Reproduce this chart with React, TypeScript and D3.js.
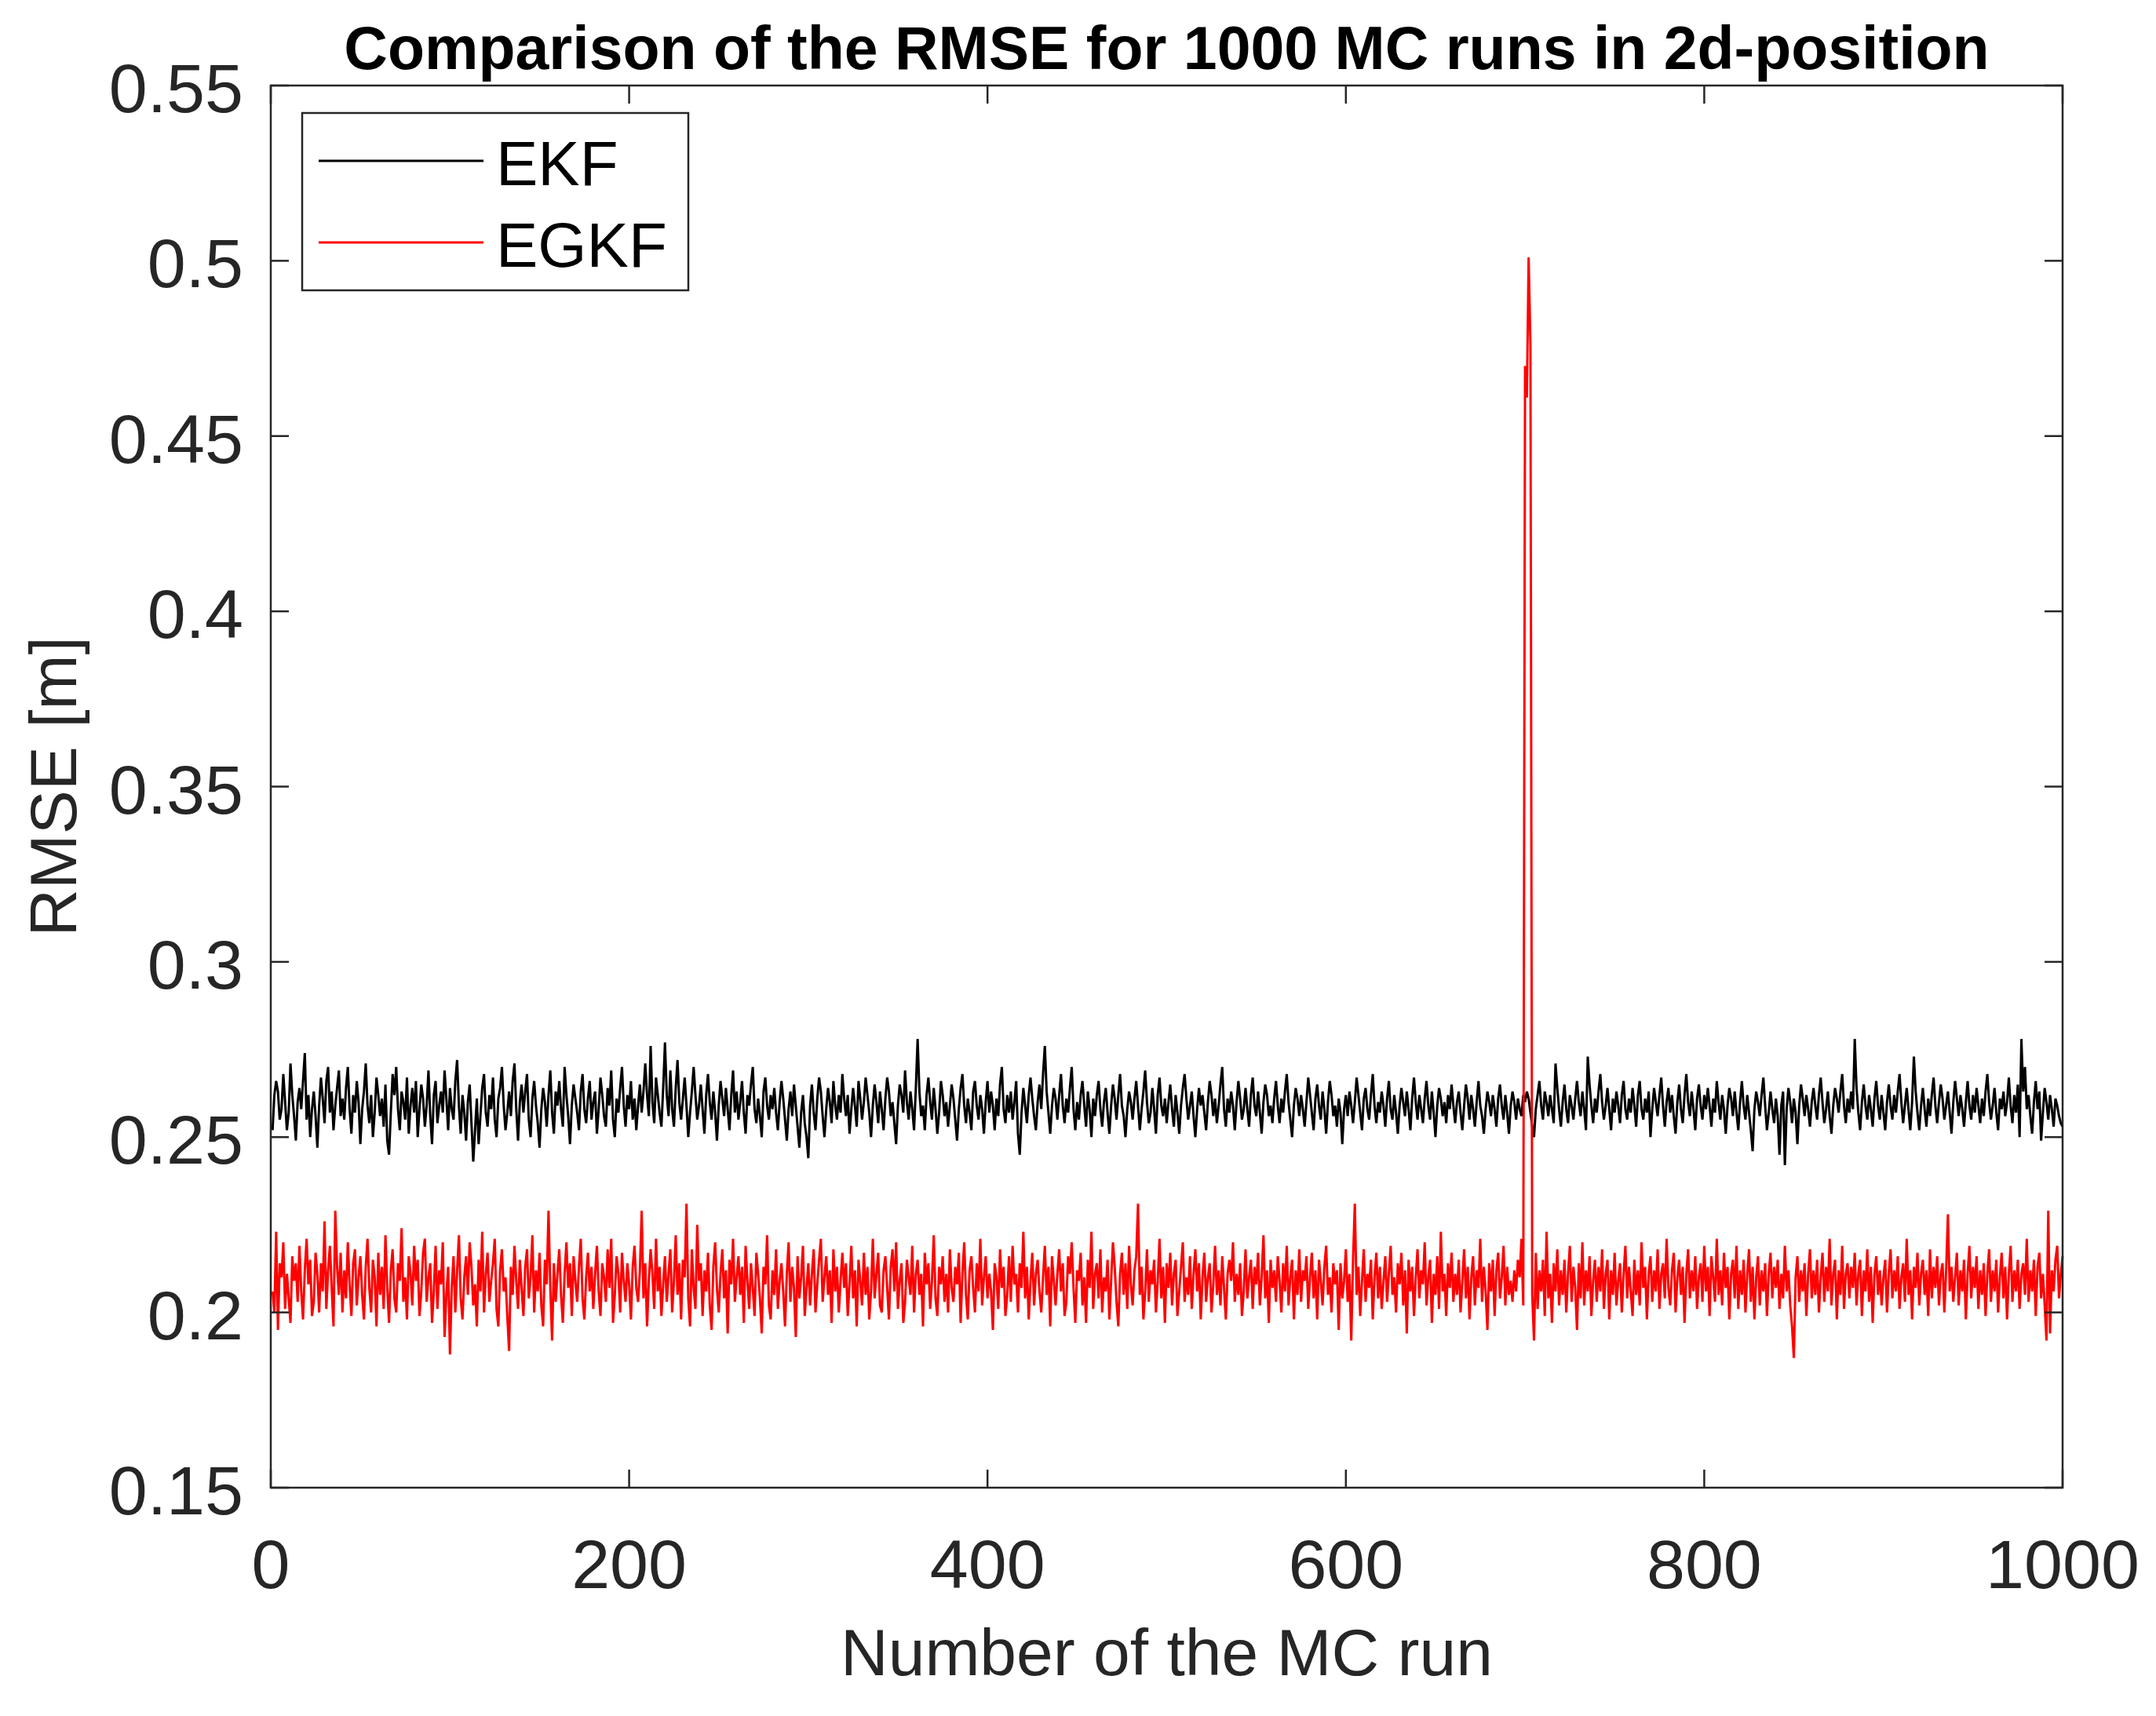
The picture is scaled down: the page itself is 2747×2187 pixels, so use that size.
import * as d3 from "d3";

// RMSE per Monte-Carlo run, in thousandths of a metre (runs 1..1000)
const ekfMilli: number[] = [
  252, 262, 266, 263, 255, 258, 268, 260, 252, 257, 271, 262, 256, 249, 260, 264, 258, 266, 274, 255,
  262, 250, 258, 263, 256, 247, 259, 267, 261, 254, 266, 270, 257, 263, 252, 259, 264, 269, 256, 261,
  255, 264, 270, 258, 251, 262, 257, 266, 260, 248, 258, 263, 271, 259, 254, 262, 250, 257, 267, 262,
  256, 261, 253, 265, 249, 245, 257, 268, 262, 270, 258, 252, 263, 260, 255, 267, 251, 259, 264, 257,
  266, 250, 258, 265, 261, 253, 259, 269, 256, 248, 262, 266, 254, 259, 263, 257, 269, 261, 252, 264,
  258, 255, 266, 272, 259, 251, 262, 257, 249, 260, 265, 254, 243, 252, 261, 248, 256, 264, 268, 257,
  253, 262, 258, 267, 255, 250, 261, 264, 270, 259, 252, 257, 263, 256, 266, 271, 258, 249, 260, 265,
  257, 263, 268, 255, 250, 261, 266, 259, 254, 247, 258, 264, 260, 253, 262, 269, 257, 251, 263, 259,
  266, 258, 253, 270, 262, 256, 248, 259, 265, 261, 257, 252, 263, 268, 258, 254, 261, 266, 255, 260,
  263, 251, 258, 267, 262, 256, 253, 264, 259, 269, 255, 250, 261, 257, 264, 270, 259, 253, 262, 258,
  266, 255, 261, 252, 259, 265, 257, 263, 271, 262, 256, 276, 260, 254, 267, 262, 257, 253, 264, 277,
  262, 256, 269, 258, 253, 264, 272, 260, 255, 261, 267, 259, 250, 257, 263, 270, 262, 255, 259, 265,
  258, 251, 262, 268, 260, 255, 263, 257, 249, 259, 266, 261, 256, 264, 258, 252, 262, 269, 257, 263,
  255, 260, 266, 257, 251, 262, 259, 265, 270, 258, 254, 261, 256, 250, 263, 267, 259, 255, 262, 258,
  264, 257, 252, 260, 266, 261, 255, 249, 258, 263, 256, 265, 259, 253, 247, 257, 262, 254, 250, 244,
  259, 265, 257, 252, 261, 267, 263, 256, 250, 258, 264, 260, 254, 266, 259, 255, 262, 257, 268, 261,
  256, 262, 251, 258, 264, 259, 253, 266, 261, 255, 260, 267, 262, 257, 250, 259, 265, 260, 254, 263,
  258, 252, 261, 267, 263, 256, 260, 254, 248, 259, 265, 262, 257, 269, 260, 255, 263, 258, 252, 264,
  278, 263, 256, 259, 252, 262, 267, 260, 255, 264, 258, 251, 257, 266, 262, 256, 260, 253, 259, 265,
  261, 255, 249, 258, 264, 268, 259, 254, 261, 257, 252, 263, 266, 259, 255, 262, 258, 251, 260, 266,
  257, 263, 259, 252, 261, 256, 265, 270, 258, 254, 262, 257, 263, 255, 260, 266, 251, 245, 257, 264,
  259, 254, 262, 267, 261, 256, 252, 260, 265, 258, 268, 276, 263, 257, 251, 259, 264, 261, 255, 262,
  268, 259, 254, 261, 257, 264, 270, 258, 252, 260, 255, 262, 266, 259, 253, 263, 258, 250, 261, 256,
  262, 266, 258, 253, 260, 264, 257, 251, 259, 265, 261, 255, 262, 268, 259, 256, 250, 258, 263, 260,
  255, 261, 266, 259, 252, 258, 263, 269, 260, 254, 257, 264, 258, 251, 262, 267, 259, 256, 261, 254,
  260, 265, 258, 253, 262, 257, 251, 259, 264, 268, 261, 255, 259, 263, 256, 250, 258, 264, 259, 262,
  257, 252, 260, 266, 262, 256, 261, 254, 259, 265, 270, 258, 253, 261, 257, 263, 259, 252, 260, 266,
  261, 255, 258, 264, 258, 253, 262, 267, 259, 256, 263, 257, 251, 260, 265, 262, 256, 259, 254, 261,
  266, 259, 254, 261, 257, 263, 268, 260, 255, 250, 259, 264, 261, 256, 262, 258, 253, 260, 267, 262,
  257, 252, 261, 265, 259, 255, 263, 258, 251, 260, 266, 262, 256, 259, 253, 261, 257, 248, 258, 262,
  256, 263, 259, 254, 260, 267, 262, 257, 252, 261, 264, 258, 255, 262, 268, 259, 254, 260, 257, 263,
  259, 253, 261, 266, 258, 255, 262, 257, 251, 259, 264, 260, 256, 263, 258, 252, 261, 267, 260, 255,
  262, 258, 254, 261, 266, 259, 255, 263, 257, 250, 259, 264, 261, 256, 260, 254, 262, 258, 265, 259,
  254, 260, 263, 257, 252, 259, 265, 261, 255, 262, 258, 253, 260, 266, 259, 256, 251, 258, 263, 260,
  256, 262, 258, 253, 261, 265, 259, 255, 262, 257, 251, 259, 263, 260, 255, 261, 258, 256, 262, 260,
  263, 261, 257, 253, 250, 258, 262, 266, 259, 255, 263, 260, 256, 262, 258, 254, 271, 264, 258, 253,
  260, 265, 258, 254, 262, 259, 255, 261, 266, 260, 256, 263, 258, 252, 273, 265, 259, 254, 261, 257,
  263, 268, 260, 255, 259, 264, 258, 252, 261, 257, 263, 259, 254, 262, 266, 258, 255, 261, 257, 264,
  259, 253, 262, 266, 258, 255, 261, 257, 263, 250, 258, 264, 260, 256, 262, 267, 259, 253, 260, 264,
  257, 262, 256, 251, 260, 265, 258, 254, 262, 268, 260, 256, 263, 258, 252, 261, 265, 259, 255, 262,
  258, 264, 259, 253, 261, 257, 266, 260, 255, 262, 258, 251, 259, 264, 261, 256, 263, 257, 252, 260,
  266, 259, 255, 262, 257, 252, 246, 258, 263, 260, 256, 262, 267, 259, 252, 257, 263, 258, 254, 261,
  256, 245, 259, 263, 242, 258, 264, 260, 254, 261, 257, 248, 259, 265, 261, 256, 262, 258, 253, 260,
  264, 259, 255, 262, 267, 260, 254, 258, 263, 256, 251, 259, 264, 261, 257, 263, 268, 259, 254, 261,
  257, 263, 258, 278, 264, 257, 252, 260, 265, 259, 255, 262, 258, 253, 261, 266, 259, 255, 262, 257,
  252, 260, 265, 259, 255, 262, 257, 263, 268, 260, 254, 259, 264, 258, 252, 260, 273, 263, 257, 252,
  259, 264, 258, 253, 261, 256, 262, 267, 259, 254, 260, 265, 261, 255, 259, 263, 257, 251, 260, 266,
  261, 256, 262, 258, 253, 260, 266, 259, 255, 262, 257, 264, 259, 254, 261, 256, 263, 268, 260, 255,
  259, 264, 257, 252, 261, 258, 263, 256, 260, 267, 259, 254, 262, 257, 265, 250, 278, 263, 270, 258,
  262, 256, 251, 260, 266, 258, 263, 249, 257, 264, 260, 255, 262, 258, 253, 261, 259, 256, 254, 253,
];

const egkfMilli: number[] = [
  206, 200, 223, 195, 214, 210, 220, 201, 211, 204, 197, 216, 209, 214, 203, 219, 206, 198, 212, 221,
  208, 215, 199, 203, 217, 211, 200, 214, 206, 226, 201, 212, 219, 207, 196, 229, 213, 205, 217, 200,
  212, 204, 220, 208, 199, 214, 218, 202, 210, 216, 205, 198, 213, 221, 207, 200, 215, 210, 196, 217,
  205, 213, 201, 222, 207, 197, 212, 218, 204, 200, 214, 209, 224, 203, 210, 198, 216, 211, 202, 219,
  209, 215, 199, 206, 217, 221, 203, 210, 214, 197, 206, 219, 201, 212, 208, 220, 193, 205, 213, 188,
  207, 216, 200, 212, 222, 204, 198, 210, 216, 205, 220, 213, 202, 208, 196, 215, 206, 223, 200, 211,
  217, 203, 209, 214, 221, 201, 196, 212, 218, 206, 210, 199, 189, 213, 205, 219, 209, 201, 215, 207,
  199, 213, 218, 204, 210, 222, 200, 212, 206, 217, 202, 196, 215, 208, 229, 207, 192, 214, 203, 211,
  218, 205, 197, 211, 220, 207, 214, 199, 216, 209, 203, 213, 221, 204, 198, 210, 217, 206, 213, 201,
  211, 219, 206, 199, 214, 210, 203, 218, 207, 221, 197, 205, 216, 211, 200, 217, 209, 203, 214, 208,
  198, 213, 219, 207, 203, 212, 229, 204, 214, 196, 209, 218, 211, 201, 221, 206, 213, 199, 208, 216,
  203, 211, 218, 200, 209, 222, 205, 214, 198, 215, 210, 231, 204, 196, 218, 207, 201, 225, 209, 214,
  199, 212, 206, 217, 202, 195, 213, 220, 207, 200, 211, 218, 204, 212, 194, 215, 208, 221, 203, 210,
  216, 205, 213, 197, 219, 209, 201, 214, 207, 199, 217, 211, 204, 194, 213, 208, 222, 202, 198, 212,
  205, 218, 201, 209, 214, 206, 196, 211, 220, 203, 213, 207, 193, 216, 204, 210, 219, 199, 207, 214,
  202, 211, 218, 200, 208, 215, 221, 203, 210, 216, 205, 212, 197, 218, 206, 213, 200, 209, 217, 207,
  214, 199, 208, 219, 204, 212, 196, 215, 209, 202, 217, 205, 213, 198, 206, 221, 204, 211, 217, 202,
  200, 212, 216, 207, 198, 213, 218, 206, 220, 201, 209, 214, 197, 203, 215, 210, 205, 219, 200, 211,
  215, 205, 211, 196, 217, 208, 214, 201, 209, 222, 204, 199, 213, 208, 216, 203, 211, 200, 218, 207,
  203, 213, 208, 217, 197, 211, 220, 205, 198, 212, 216, 207, 200, 214, 206, 221, 202, 210, 216, 204,
  211, 206, 195, 214, 210, 201, 218, 207, 213, 199, 205, 216, 203, 219, 208, 211, 200, 214, 207, 223,
  204, 213, 198, 209, 217, 202, 211, 215, 206, 200, 210, 219, 205, 213, 196, 216, 209, 202, 211, 218,
  206, 214, 199, 203, 216, 211, 220, 207, 197, 212, 209, 217, 202, 210, 197, 215, 207, 223, 201, 211,
  214, 204, 218, 200, 210, 206, 215, 198, 209, 220, 213, 203, 196, 211, 217, 205, 214, 201, 219, 208,
  202, 212, 216, 231, 205, 213, 198, 206, 218, 203, 212, 208, 215, 200, 209, 221, 204, 213, 197, 214,
  207, 217, 202, 211, 215, 199, 206, 213, 220, 203, 210, 205, 216, 201, 211, 218, 206, 214, 198, 210,
  217, 203, 210, 214, 200, 208, 219, 205, 212, 202, 216, 207, 198, 211, 215, 209, 220, 203, 211, 205,
  214, 199, 206, 218, 204, 210, 215, 201, 213, 208, 217, 202, 210, 222, 204, 212, 197, 215, 207, 212,
  203, 216, 209, 200, 214, 206, 219, 202, 210, 215, 198, 212, 205, 218, 203, 212, 209, 216, 201, 210,
  217, 204, 212, 198, 215, 209, 202, 213, 219, 205, 210, 200, 214, 208, 212, 195, 214, 204, 209, 218,
  203, 211, 192, 215, 231, 205, 213, 199, 209, 218, 203, 211, 207, 215, 198, 210, 217, 204, 213, 201,
  209, 216, 203, 211, 219, 205, 210, 200, 214, 208, 217, 202, 212, 194, 215, 206, 213, 199, 210, 218,
  204, 212, 208, 220, 202, 210, 215, 197, 211, 205, 216, 201, 223, 206, 211, 199, 214, 207, 217, 203,
  211, 205, 215, 200, 209, 218, 204, 213, 198, 210, 216, 202, 212, 207, 221, 203, 213, 206, 195, 214,
  206, 215, 199, 212, 217, 204, 210, 219, 202, 213, 205, 209, 203, 212, 206, 215, 210, 221, 202, 470,
  461, 501, 476, 205, 192, 217, 201, 212, 206, 215, 199, 223, 204, 211, 197, 214, 206, 218, 202, 212,
  205, 215, 200, 211, 219, 203, 213, 207, 195, 214, 204, 220, 202, 212, 206, 216, 199, 209, 215, 203,
  213, 206, 218, 201, 211, 215, 198, 212, 205, 217, 202, 209, 214, 200, 211, 219, 204, 213, 206, 199,
  215, 205, 212, 202, 220, 207, 213, 198, 211, 216, 203, 212, 206, 218, 201, 211, 214, 204, 221, 207,
  202, 212, 217, 200, 210, 215, 205, 213, 197, 211, 218, 204, 212, 206, 216, 201, 210, 214, 203, 219,
  206, 213, 199, 216, 210, 203, 221, 205, 212, 202, 217, 207, 213, 198, 211, 215, 204, 219, 201, 212,
  205, 215, 200, 211, 218, 203, 213, 198, 210, 216, 202, 212, 206, 214, 199, 211, 217, 204, 213, 207,
  215, 201, 211, 204, 219, 206, 212, 202, 196, 187, 210, 216, 203, 212, 206, 214, 199, 211, 218, 204,
  212, 205, 215, 200, 210, 217, 203, 213, 206, 221, 202, 211, 215, 198, 212, 205, 219, 201, 211, 214,
  204, 213, 207, 217, 202, 211, 215, 199, 212, 206, 218, 203, 213, 197, 211, 216, 205, 212, 202, 210,
  215, 200, 211, 218, 204, 212, 206, 216, 201, 210, 214, 203, 221, 205, 212, 198, 213, 207, 217, 202,
  211, 215, 205, 212, 199, 218, 204, 213, 207, 216, 202, 211, 214, 200, 212, 228, 206, 213, 203, 210,
  217, 202, 212, 206, 215, 198, 211, 219, 204, 213, 207, 216, 201, 212, 205, 214, 199, 211, 218, 203,
  212, 206, 215, 200, 210, 217, 204, 213, 198, 211, 219, 203, 212, 206, 215, 201, 211, 214, 205, 221,
  203, 212, 206, 215, 199, 213, 217, 204, 211, 202, 192, 229, 194, 212, 206, 215, 219, 204, 211, 216,
];

const xTicks = [0, 200, 400, 600, 800, 1000];
const yTicks = [0.15, 0.2, 0.25, 0.3, 0.35, 0.4, 0.45, 0.5, 0.55];
const seriesNames = ["EKF", "EGKF"];
const seriesColors = ["#000000", "#ff0000"];

const W = 2747;
const H = 2187;
const font = "'Liberation Sans', Arial, Helvetica, sans-serif";
const axisColor = "#262626";

export default function App() {
  const x = d3.scaleLinear().domain([0, 1000]).range([345, 2628]);
  const y = d3.scaleLinear().domain([0.15, 0.55]).range([1896, 109]);
  const [x0, x1] = x.range();
  const [y0, y1] = y.range();

  const line = d3
    .line<number>()
    .x((_, i) => x(i + 1))
    .y((d) => y(d / 1000));

  const series = [ekfMilli, egkfMilli];
  const tickLen = 23;

  return (
    <svg
      width={W}
      height={H}
      style={{ position: "absolute", left: 0, top: 0, background: "#fff" }}
      fontFamily={font}
    >
      <rect x={0} y={0} width={W} height={H} fill="#fff" />

      {series.map((s, i) => (
        <path
          key={seriesNames[i]}
          d={line(s) ?? ""}
          fill="none"
          stroke={seriesColors[i]}
          strokeWidth={3}
          strokeLinejoin="miter"
        />
      ))}

      {/* axes box */}
      <rect
        x={x0}
        y={y1}
        width={x1 - x0}
        height={y0 - y1}
        fill="none"
        stroke={axisColor}
        strokeWidth={2.5}
      />

      {xTicks.map((t) => (
        <g key={"x" + t}>
          <line x1={x(t)} x2={x(t)} y1={y0} y2={y0 - tickLen} stroke={axisColor} strokeWidth={2.5} />
          <line x1={x(t)} x2={x(t)} y1={y1} y2={y1 + tickLen} stroke={axisColor} strokeWidth={2.5} />
          <text x={x(t)} y={y0 + 128} textAnchor="middle" fontSize={88} fill={axisColor}>
            {t}
          </text>
        </g>
      ))}

      {yTicks.map((t) => (
        <g key={"y" + t}>
          <line x1={x0} x2={x0 + tickLen} y1={y(t)} y2={y(t)} stroke={axisColor} strokeWidth={2.5} />
          <line x1={x1} x2={x1 - tickLen} y1={y(t)} y2={y(t)} stroke={axisColor} strokeWidth={2.5} />
          <text x={310} y={y(t) + 34} textAnchor="end" fontSize={88} fill={axisColor}>
            {t}
          </text>
        </g>
      ))}

      <text x={(x0 + x1) / 2} y={2135} textAnchor="middle" fontSize={84} fill={axisColor}>
        Number of the MC run
      </text>
      <text
        transform={`translate(97, ${(y0 + y1) / 2}) rotate(-90)`}
        textAnchor="middle"
        fontSize={84}
        fill={axisColor}
      >
        RMSE [m]
      </text>

      <text x={(x0 + x1) / 2} y={88} textAnchor="middle" fontSize={77} fontWeight="bold" fill="#000">
        Comparison of the RMSE for 1000 MC runs in 2d-position
      </text>

      {/* legend */}
      <rect x={385} y={144} width={492} height={226} fill="#fff" stroke={axisColor} strokeWidth={2.5} />
      {seriesNames.map((name, i) => {
        const ly = 205 + i * 104;
        return (
          <g key={"lg" + name}>
            <line x1={406} x2={616} y1={ly} y2={ly} stroke={seriesColors[i]} strokeWidth={3} />
            <text x={632} y={ly + 31} fontSize={80} fill="#000">
              {name}
            </text>
          </g>
        );
      })}
    </svg>
  );
}
